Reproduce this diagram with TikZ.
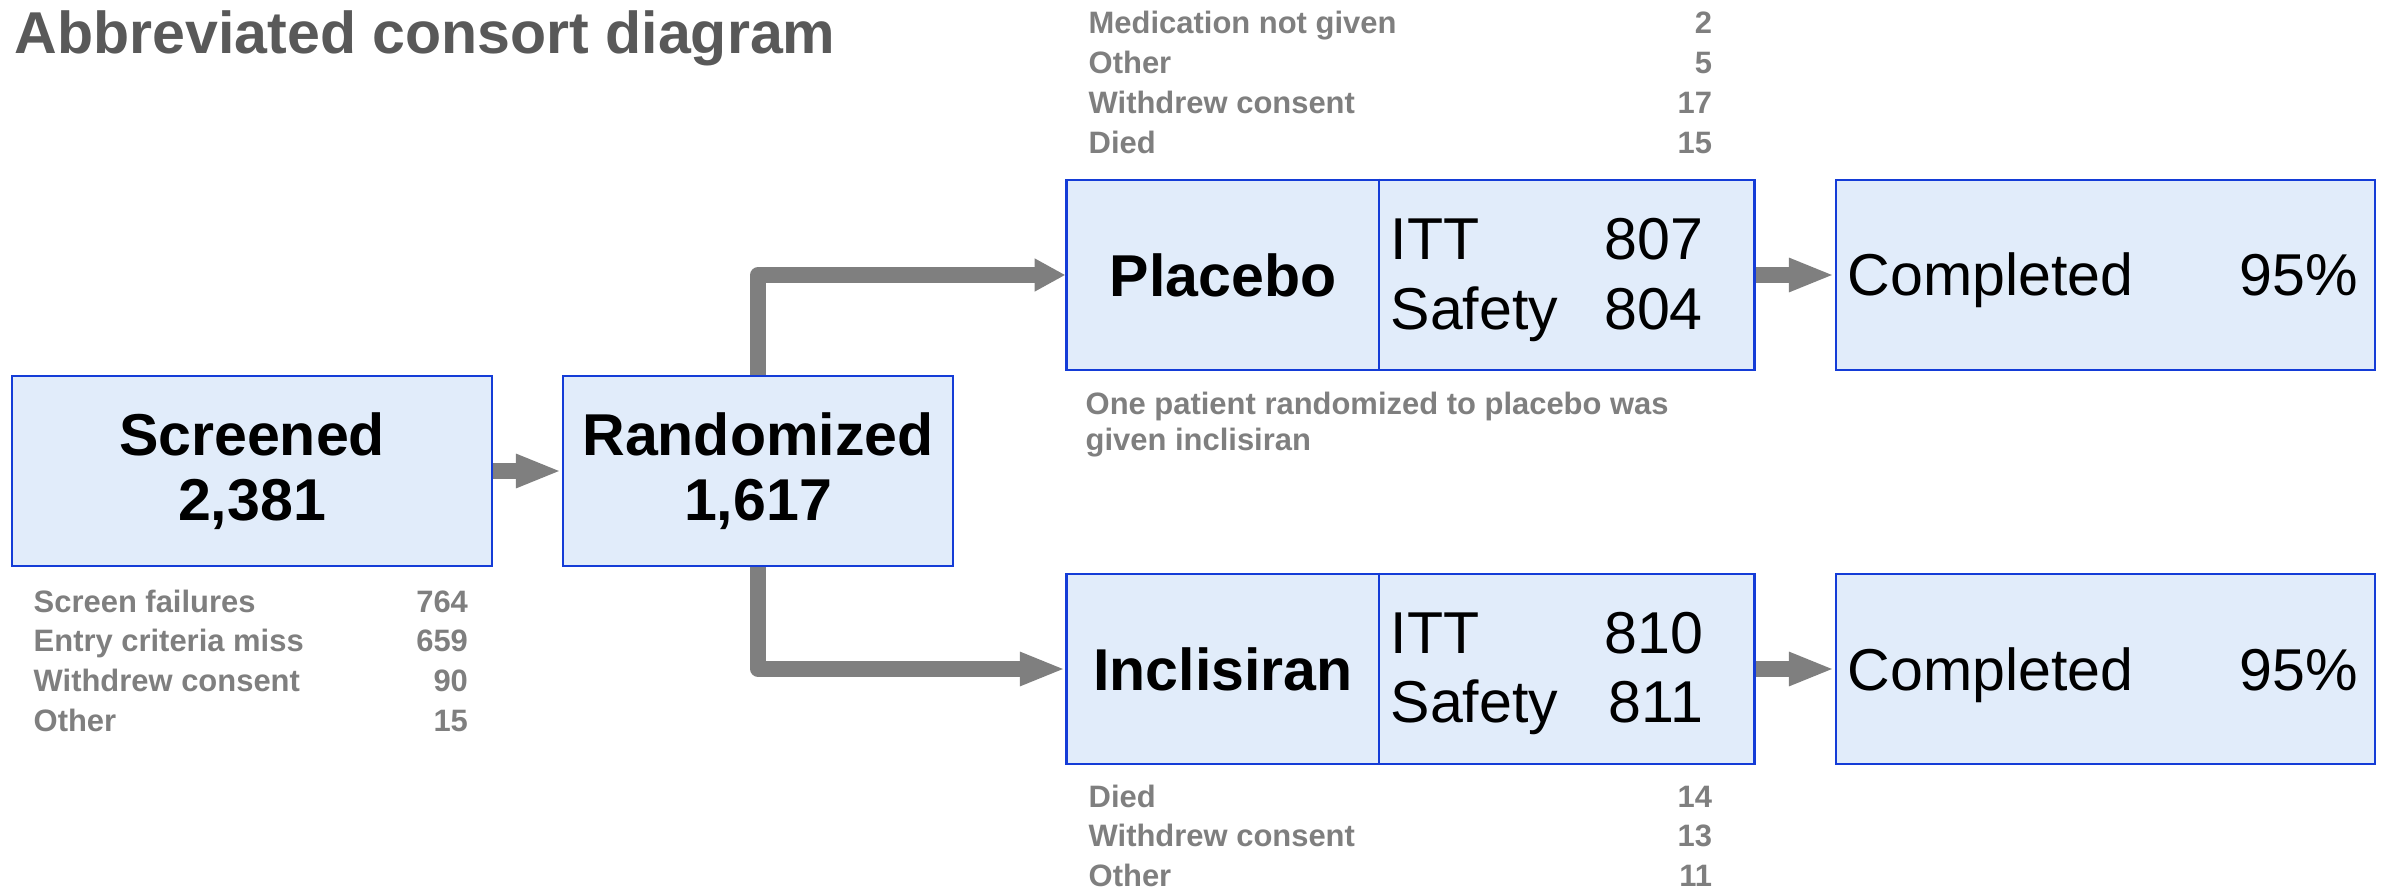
\documentclass[tikz,border=0pt]{standalone}
\usepackage{fontspec}
\setmainfont{Liberation Sans}
\usetikzlibrary{positioning, arrows.meta}
\definecolor{consortblue}{RGB}{20, 60, 215}
\definecolor{consortfill}{RGB}{225, 236, 250}
\definecolor{consortgray}{RGB}{127, 127, 127}
\definecolor{consortdark}{RGB}{89, 89, 89}
\newcommand{\headfont}{\fontsize{16.8pt}{18.5pt}\selectfont}
\newcommand{\countfont}{\fontsize{16.8pt}{19.9pt}\selectfont}
\newcommand{\notefont}{\fontsize{8.8pt}{11.3pt}\selectfont\bfseries}

\begin{document}
\begin{tikzpicture}[x=0.01cm, y=-0.01cm,
    box/.style={draw=consortblue, fill=consortfill, line width=0.75pt,
                inner sep=0pt, minimum height=1.9cm},
    flow/.style={draw=consortgray, line width=4.4pt, line join=round,
                 -{Triangle[length=13pt, width=8.8pt]}},
    note/.style={inner sep=0pt, font=\notefont, text=consortgray},
    counts/.style={inner sep=0pt, font=\countfont}]
  \useasboundingbox (0,0) rectangle (2387,894);

  % Title
  \node[anchor=base west, inner sep=0pt, font=\headfont\bfseries, text=consortdark]
    (title) at (14,54) {Abbreviated consort diagram};

  % Screening and randomization
  \node[box, minimum width=4.8cm, font=\headfont\bfseries, align=center]
    (scr) at (252,471) {Screened\\2,381};
  \node[box, minimum width=3.9cm, font=\headfont\bfseries, align=center]
    (rnd) at (758,471) {Randomized\\1,617};
  \node[note, anchor=base west] (scrloss) at (33,612)
    {\begin{tabular*}{4.34cm}[t]{@{}l@{\extracolsep{\fill}}r@{}}
      Screen failures & 764\\ Entry criteria miss & 659\\
      Withdrew consent & 90\\ Other & 15\end{tabular*}};

  % Placebo arm
  \node[box, minimum width=6.87cm] (plc) at (1410.5,275) {};
  \node[inner sep=0pt, font=\headfont\bfseries] (plcname) at (1223,275) {Placebo};
  \coordinate (plcsplit) at (1379,275);
  \draw[consortblue, line width=0.75pt] (plcsplit |- plc.north) -- (plcsplit |- plc.south);
  \node[counts, anchor=base west] (plcitt) at (1390,260)
    {\begin{tabular*}{3.12cm}[t]{@{}l@{\extracolsep{\fill}}r@{}}
      ITT & 807\\ Safety & 804\end{tabular*}};
  \node[box, minimum width=5.39cm] (plcdone) at (2105.5,275) {};
  \node[counts, anchor=base west] (plcpct) at (1847,296)
    {\begin{tabular*}{5.1cm}[t]{@{}l@{\extracolsep{\fill}}r@{}}
      Completed & 95\%\end{tabular*}};
  \node[note, anchor=base west] (plcloss) at (1088,34)
    {\begin{tabular*}{6.23cm}[t]{@{}l@{\extracolsep{\fill}}r@{}}
      Medication not given & 2\\ Other & 5\\
      Withdrew consent & 17\\ Died & 15\end{tabular*}};
  \node[note, anchor=base west, font=\fontsize{8.8pt}{10.5pt}\selectfont\bfseries]
    (plcnote) at (1085,414)
    {\begin{tabular}[t]{@{}l@{}}
      One patient randomized to placebo was\\ given inclisiran\end{tabular}};

  % Inclisiran arm
  \node[box, minimum width=6.87cm] (inc) at (1410.5,669) {};
  \node[inner sep=0pt, font=\headfont\bfseries] (incname) at (1223,669) {Inclisiran};
  \coordinate (incsplit) at (1379,669);
  \draw[consortblue, line width=0.75pt] (incsplit |- inc.north) -- (incsplit |- inc.south);
  \node[counts, anchor=base west] (incitt) at (1390,653)
    {\begin{tabular*}{3.12cm}[t]{@{}l@{\extracolsep{\fill}}r@{}}
      ITT & 810\\ Safety & 811\end{tabular*}};
  \node[box, minimum width=5.39cm] (incdone) at (2105.5,669) {};
  \node[counts, anchor=base west] (incpct) at (1847,690)
    {\begin{tabular*}{5.1cm}[t]{@{}l@{\extracolsep{\fill}}r@{}}
      Completed & 95\%\end{tabular*}};
  \node[note, anchor=base west] (incloss) at (1088,807)
    {\begin{tabular*}{6.23cm}[t]{@{}l@{\extracolsep{\fill}}r@{}}
      Died & 14\\ Withdrew consent & 13\\ Other & 11\end{tabular*}};

  % Flow
  \draw[flow] (scr) -- (rnd);
  \draw[flow, -{Triangle[length=8.8pt, width=8.8pt]}] (rnd.north) |- (plc.west);
  \draw[flow] (rnd.south) |- (inc.west);
  \draw[flow] (plc) -- (plcdone);
  \draw[flow] (inc) -- (incdone);
\end{tikzpicture}
\end{document}
